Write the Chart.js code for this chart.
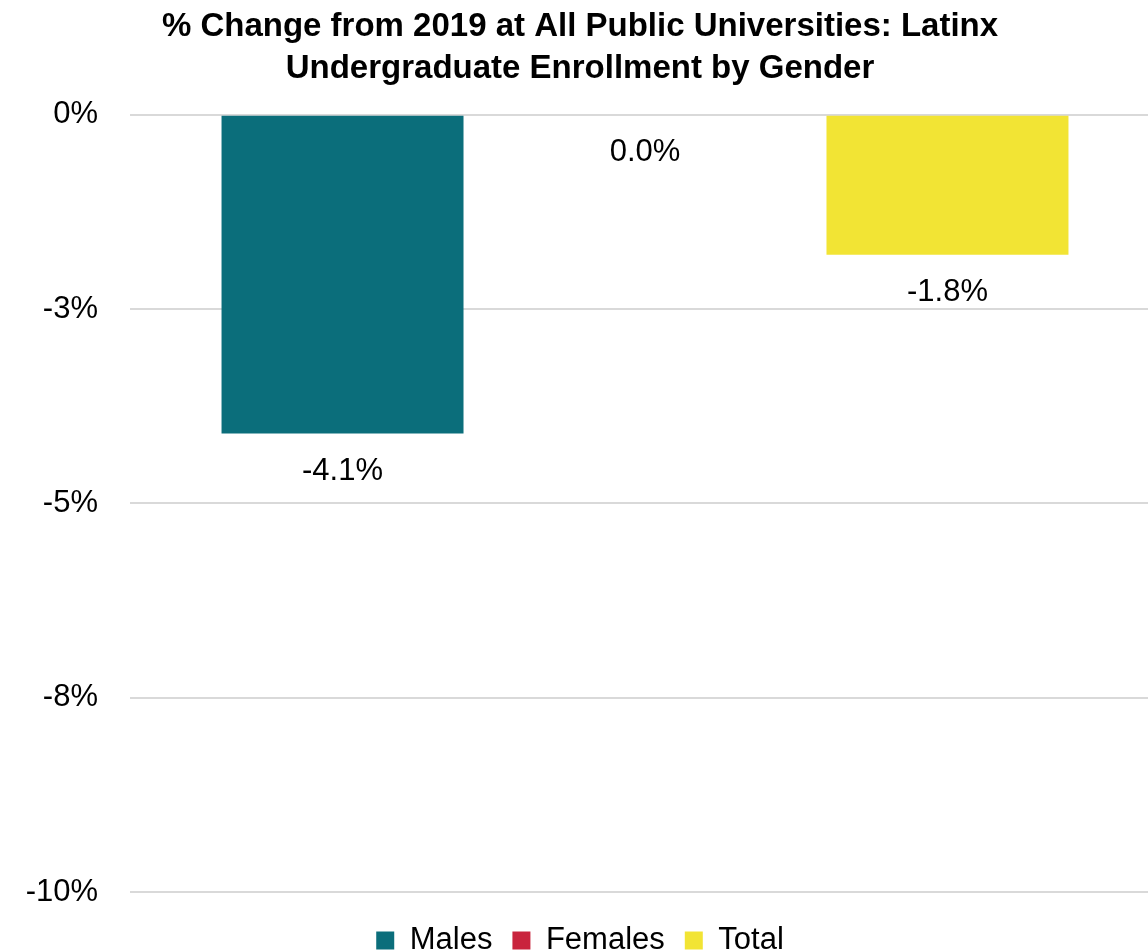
<!DOCTYPE html>
<html>
<head>
<meta charset="utf-8">
<script src="https://cdn.jsdelivr.net/npm/chart.js@4/dist/chart.umd.min.js"></script>
<style>
  html, body { margin: 0; padding: 0; background: #fff; overflow: hidden; }
  #wrap { position: relative; width: 1160px; height: 966px; }
</style>
</head>
<body>
<div id="wrap"><canvas id="chart"></canvas></div>
<script>
const categories = [""];
const seriesNames = ["Males", "Females", "Total"];
const seriesValues = [[-4.1], [0.0], [-1.8]];
const seriesColors = ["#0b6e7b", "#c9243d", "#f2e434"];
const yTicks = [0, -2.5, -5, -7.5, -10];

const FONT = "'Liberation Sans', Arial, sans-serif";

// value labels under each bar end
const barLabels = {
    id: "barLabels",
    afterDatasetsDraw(chart) {
        const ctx = chart.ctx;
        ctx.save();
        ctx.font = "31px " + FONT;
        ctx.fillStyle = "#000";
        ctx.textAlign = "center";
        ctx.textBaseline = "middle";
        chart.data.datasets.forEach((ds, i) => {
            chart.getDatasetMeta(i).data.forEach((bar, j) => {
                ctx.fillText(ds.data[j].toFixed(1) + "%", bar.x, bar.y + 38);
            });
        });
        ctx.restore();
    },
};

new Chart(document.getElementById("chart"), {
    type: "bar",
    data: {
        labels: categories,
        datasets: seriesNames.map((n, i) => ({
            label: n, data: seriesValues[i], backgroundColor: seriesColors[i],
            barPercentage: 0.8, categoryPercentage: 0.881,
        })),
    },
    options: {
        responsive: true, maintainAspectRatio: false, animation: false,
        layout: { padding: 0 },
        scales: {
            x: {
                display: true,
                grid: { display: false }, border: { display: false },
                ticks: { display: false },
                afterFit: (s) => { s.height = 13; },
            },
            y: {
                min: -10, max: 0,
                afterBuildTicks: (s) => { s.ticks = yTicks.map(v => ({ value: v })); },
                afterFit: (s) => { s.width = 130; },
                grid: { color: "#d9d9d9", lineWidth: 2, drawTicks: false },
                border: { display: false },
                ticks: {
                    color: "#000", padding: 32,
                    font: { family: FONT, size: 31 },
                    callback: (v) => (v === 0 ? "0" : "-" + Math.round(Math.abs(v))) + "%",
                },
            },
        },
        plugins: {
            title: {
                display: true,
                text: ["% Change from 2019 at All Public Universities: Latinx", "Undergraduate Enrollment by Gender"],
                color: "#000",
                font: { family: FONT, size: 33, weight: "bold", lineHeight: 1.27 },
                padding: { top: 6, bottom: 25 },
            },
            legend: {
                position: "bottom",
                labels: {
                    color: "#000", boxWidth: 18, boxHeight: 18, padding: 20,
                    font: { family: FONT, size: 31 },
                },
            },
            tooltip: { enabled: false },
        },
    },
    plugins: [barLabels],
});
</script>
</body>
</html>
